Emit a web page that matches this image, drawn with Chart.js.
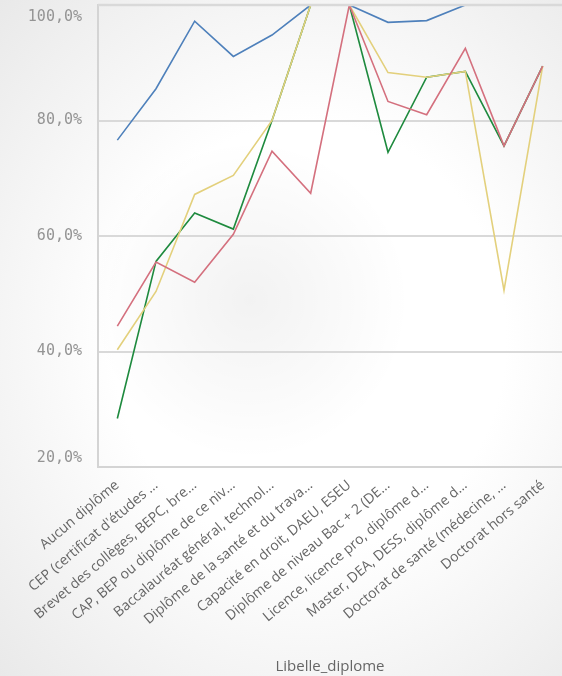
<!DOCTYPE html>
<html>
<head>
<meta charset="utf-8">
<script src="https://cdn.jsdelivr.net/npm/chart.js@4"></script>
<style>
    html, body { margin: 0; padding: 0; }
    body {
        width: 562px;
        height: 676px;
        overflow: hidden;
        background:
            radial-gradient(circle at 250px 300px, rgba(0,0,0,0.05), rgba(0,0,0,0) 160px),
            radial-gradient(ellipse at 55% 50%, #ffffff 45%, #e9e9e9 100%);
    }
    #wrap { position: relative; width: 562px; height: 676px; }
</style>
</head>
<body>
<div id="wrap"><canvas id="diplome-chart"></canvas></div>
<script>
// categories (labels truncated as in the original)
const categories = [
    'Aucun diplôme',
    'CEP (certificat d\'études …',
    'Brevet des collèges, BEPC, bre…',
    'CAP, BEP ou diplôme de ce niv…',
    'Baccalauréat général, technol…',
    'Diplôme de la santé et du trava…',
    'Capacité en droit, DAEU, ESEU',
    'Diplôme de niveau Bac + 2 (DE…',
    'Licence, licence pro, diplôme d…',
    'Master, DEA, DESS, diplôme d…',
    'Doctorat de santé (médecine, …',
    'Doctorat hors santé'
];

// series values (%)
const serieBleue = [76.6, 85.5, 97.2, 91.1, 94.8, 100, 100, 97.0, 97.3, 100, null, null];
const serieVerte = [28.4, 55.6, 64.0, 61.2, 80.0, 100, 100, 74.5, 87.5, 88.5, 75.6, 89.4];
const serieJaune = [40.3, 50.4, 67.2, 70.5, 80.0, 100, 100, 88.3, 87.5, 88.5, 50.6, 89.4];
const serieRouge = [44.4, 55.5, 52.0, 60.3, 74.7, 67.4, 100, 83.3, 81.0, 92.5, 75.6, 89.4];

// y tick values
const yTicks = [20, 40, 60, 80, 100];

function formatPct(v) {
    return v.toFixed(1).replace('.', ',') + '%';
}

// top border goes over the lines, like in Qlik (values at 100% disappear in it)
const topBorderPlugin = {
    id: 'topBorder',
    afterDatasetsDraw(chart) {
        const area = chart.chartArea;
        const ctx = chart.ctx;
        ctx.save();
        ctx.strokeStyle = '#d9d9d9';
        ctx.lineWidth = 2.4;
        ctx.beginPath();
        ctx.moveTo(area.left, area.top);
        ctx.lineTo(area.right, area.top);
        ctx.stroke();
        ctx.restore();
    }
};

// y labels drawn by hand: Qlik pushes the first and last one inside the plot
const yLabelsPlugin = {
    id: 'yLabels',
    afterDraw(chart) {
        const y = chart.scales.y;
        const ctx = chart.ctx;
        ctx.save();
        ctx.font = '15px "DejaVu Sans Mono"';
        ctx.fillStyle = '#949494';
        ctx.textAlign = 'right';
        ctx.textBaseline = 'middle';
        yTicks.forEach(v => {
            let py = y.getPixelForValue(v);
            if (v === yTicks[yTicks.length - 1]) py += 12;
            if (v === yTicks[0]) py -= 9;
            ctx.fillText(formatPct(v), 82, py);
        });
        ctx.restore();
    }
};

function line(data, color) {
    return {
        data: data,
        borderColor: color,
        borderWidth: 1.6,
        pointRadius: 0,
        pointHoverRadius: 0,
        fill: false,
        tension: 0,
        spanGaps: false,
        clip: 0
    };
}

const ctx = document.getElementById('diplome-chart');

new Chart(ctx, {
    type: 'line',
    data: {
        labels: categories,
        datasets: [
            line(serieRouge, '#d4707e'),
            line(serieJaune, '#e3d07c'),
            line(serieVerte, '#1e8a3e'),
            line(serieBleue, '#4e80bb')
        ]
    },
    options: {
        responsive: true,
        maintainAspectRatio: false,
        animation: false,
        layout: {
            padding: { top: 5, right: 0, bottom: 0, left: 0 }
        },
        plugins: {
            legend: { display: false },
            tooltip: { enabled: false }
        },
        scales: {
            x: {
                offset: true,
                grid: { display: false },
                border: { display: true, color: '#d4d4d4', width: 2 },
                ticks: {
                    autoSkip: false,
                    minRotation: 40,
                    maxRotation: 40,
                    color: '#666666',
                    font: { family: '"Open Sans"', size: 14 },
                    padding: 2
                },
                title: {
                    display: true,
                    text: 'Libelle_diplome',
                    color: '#666666',
                    font: { family: '"Open Sans"', size: 15 },
                    padding: { top: 0, bottom: 0 }
                },
                afterFit(scale) { scale.height = 209; }
            },
            y: {
                min: 20,
                max: 100,
                ticks: { stepSize: 20, display: false },
                grid: { color: '#d9d9d9', lineWidth: 2, drawTicks: false },
                border: { display: true, color: '#d4d4d4', width: 2 },
                afterFit(scale) { scale.width = 98; }
            }
        }
    },
    plugins: [topBorderPlugin, yLabelsPlugin]
});
</script>
</body>
</html>
